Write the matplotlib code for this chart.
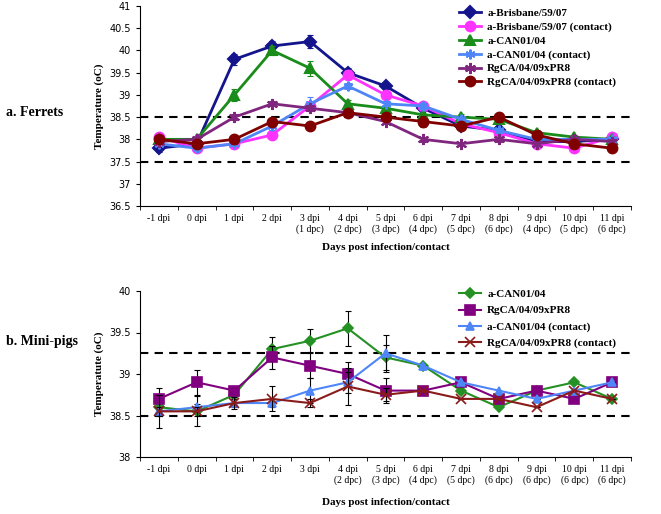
import matplotlib
matplotlib.use("Agg")
import matplotlib.pyplot as plt
import numpy as np

# x categories
days = ["-1 dpi", "0 dpi", "1 dpi", "2 dpi", "3 dpi\n(1 dpc)", "4 dpi\n(2 dpc)", "5 dpi\n(3 dpc)",
        "6 dpi\n(4 dpc)", "7 dpi\n(5 dpc)", "8 dpi\n(6 dpc)", "9 dpi\n(4 dpc)", "10 dpi\n(5 dpc)",
        "11 dpi\n(6 dpc)"]
days_pig = ["-1 dpi", "0 dpi", "1 dpi", "2 dpi", "3 dpi", "4 dpi\n(2 dpc)", "5 dpi\n(3 dpc)",
            "6 dpi\n(4 dpc)", "7 dpi\n(5 dpc)", "8 dpi\n(6 dpc)", "9 dpi\n(6 dpc)", "10 dpi\n(6 dpc)",
            "11 dpi\n(6 dpc)"]

# ferrets
brisbane = [37.8, 37.9, 39.8, 40.1, 40.2, 39.5, 39.2, 38.7, 38.3, 38.2, 37.95, 37.95, 38.0]
brisbane_err = [0.08, 0.05, 0.12, 0.12, 0.15, 0.1, 0.04, 0.12, 0.08, 0.06, 0.05, 0.05, 0.04]
brisbane_c = [38.05, 37.8, 37.9, 38.1, 38.75, 39.45, 39.0, 38.75, 38.35, 38.15, 37.9, 37.8, 38.05]
brisbane_c_err = [0.04, 0.04, 0.04, 0.04, 0.1, 0.1, 0.05, 0.05, 0.05, 0.05, 0.05, 0.04, 0.04]
can = [38.0, 38.0, 39.0, 40.0, 39.6, 38.8, 38.7, 38.55, 38.5, 38.45, 38.15, 38.05, 38.0]
can_err = [0.05, 0.04, 0.13, 0.1, 0.17, 0.08, 0.05, 0.05, 0.08, 0.08, 0.05, 0.05, 0.05]
can_c = [37.9, 37.8, 37.9, 38.3, 38.8, 39.2, 38.8, 38.75, 38.45, 38.2, 38.0, 38.0, 38.0]
can_c_err = [0.04, 0.04, 0.04, 0.08, 0.15, 0.06, 0.06, 0.06, 0.05, 0.05, 0.05, 0.05, 0.05]
rgca = [37.95, 38.0, 38.5, 38.8, 38.7, 38.6, 38.4, 38.0, 37.9, 38.0, 37.9, 38.0, 37.95]
rgca_err = [0.04, 0.04, 0.07, 0.06, 0.07, 0.05, 0.06, 0.05, 0.05, 0.05, 0.06, 0.1, 0.05]
rgca_c = [38.0, 37.9, 38.0, 38.4, 38.3, 38.6, 38.5, 38.4, 38.3, 38.5, 38.1, 37.9, 37.8]
rgca_c_err = [0.04, 0.04, 0.1, 0.07, 0.05, 0.05, 0.05, 0.12, 0.06, 0.1, 0.05, 0.05, 0.07]

# mini-pigs
pig_can = [38.6, 38.55, 38.75, 39.3, 39.4, 39.55, 39.2, 39.1, 38.8, 38.6, 38.8, 38.9, 38.7]
pig_can_err = [0.05, 0.18, 0.05, 0.14, 0.14, 0.21, 0.15, 0, 0, 0, 0, 0, 0]
pig_rgca = [38.7, 38.9, 38.8, 39.2, 39.1, 39.0, 38.8, 38.8, 38.9, 38.7, 38.8, 38.7, 38.9]
pig_rgca_err = [0.13, 0.15, 0.03, 0.14, 0.15, 0.15, 0.15, 0, 0, 0, 0, 0, 0]
pig_can_c = [38.55, 38.6, 38.65, 38.65, 38.8, 38.9, 39.25, 39.1, 38.9, 38.8, 38.7, 38.8, 38.9]
pig_can_c_err = [0.2, 0.04, 0.05, 0.05, 0.15, 0.13, 0.22, 0, 0, 0, 0, 0, 0]
pig_rgca_c = [38.55, 38.55, 38.65, 38.7, 38.65, 38.85, 38.75, 38.8, 38.7, 38.7, 38.6, 38.8, 38.7]
pig_rgca_c_err = [0.05, 0.05, 0.07, 0.15, 0.05, 0.22, 0.08, 0, 0, 0, 0, 0, 0]

serif = "Liberation Serif"
sans = "DejaVu Sans"

fig = plt.figure(figsize=(6.61, 5.14), dpi=100)
ax1 = fig.add_axes([140 / 661, 1 - 206 / 514, 491 / 661, 200 / 514])
ax2 = fig.add_axes([140 / 661, 1 - 457 / 514, 491 / 661, 166 / 514])

x = np.arange(13)

ferret_series = [
    (brisbane, brisbane_err, "#14148C", "D", 6, "a-Brisbane/59/07"),
    (brisbane_c, brisbane_c_err, "#FF33FF", "o", 7, "a-Brisbane/59/07 (contact)"),
    (can, can_err, "#1A8C1A", "^", 7, "a-CAN01/04"),
    (can_c, can_c_err, "#4F86F7", (6, 2, 0), 7, "a-CAN01/04 (contact)"),
    (rgca, rgca_err, "#80267F", (6, 2, 0), 8, "RgCA/04/09xPR8"),
    (rgca_c, rgca_c_err, "#800000", "o", 7, "RgCA/04/09xPR8 (contact)"),
]
for y, e, c, m, ms, lab in ferret_series:
    ax1.errorbar(x, y, yerr=e, fmt="none", ecolor=c, elinewidth=0.8, capsize=2.5, capthick=0.8)
    ax1.plot(x, y, color=c, lw=2, marker=m, ms=ms, mec=c, mew=1.5, label=lab)

pig_series = [
    (pig_can, pig_can_err, "#259125", "D", 5, "a-CAN01/04"),
    (pig_rgca, pig_rgca_err, "#800080", "s", 7, "RgCA/04/09xPR8"),
    (pig_can_c, pig_can_c_err, "#4F86F7", "^", 6, "a-CAN01/04 (contact)"),
    (pig_rgca_c, pig_rgca_c_err, "#8B1A1A", "x", 7, "RgCA/04/09xPR8 (contact)"),
]
for y, e, c, m, ms, lab in pig_series:
    ax2.errorbar(x, y, yerr=e, fmt="none", ecolor="black", elinewidth=0.8, capsize=2.5, capthick=0.8)
    ax2.plot(x, y, color=c, lw=1.5, marker=m, ms=ms, mec=c, mew=1.2, label=lab)

ax1.axhline(38.5, color="black", ls=(0, (4, 3)), lw=1.5, zorder=0)
ax1.axhline(37.5, color="black", ls=(0, (4, 3)), lw=1.5, zorder=0)
ax2.axhline(39.25, color="black", ls=(0, (4, 3)), lw=1.5, zorder=0)
ax2.axhline(38.5, color="black", ls=(0, (4, 3)), lw=1.5, zorder=0)

for ax, labels, lo, hi, ylab, xpad in [(ax1, days, 36.5, 41, "Temperature (oC)", 6),
                                       (ax2, days_pig, 38, 40, "Temperatute (oC)", 9)]:
    ax.set_xlim(-0.5, 12.5)
    ax.set_ylim(lo, hi)
    ax.set_xticks(x)
    ax.set_xticklabels(labels, fontsize=7, family=serif, va="top")
    ax.set_xticks(np.arange(-0.5, 13, 1), minor=True)
    ax.tick_params(axis="x", which="major", length=0, pad=6)
    ax.tick_params(axis="x", which="minor", length=3, direction="out")
    ax.set_yticks(np.arange(lo, hi + 0.01, 0.5))
    ax.set_yticklabels([f"{v:g}" for v in np.arange(lo, hi + 0.01, 0.5)], fontsize=7, family=sans)
    ax.tick_params(axis="y", length=3, direction="out")
    ax.spines["top"].set_visible(False)
    ax.spines["right"].set_visible(False)
    ax.set_ylabel(ylab, fontsize=8, family=serif, fontweight="bold", labelpad=4)
    ax.set_xlabel("Days post infection/contact", fontsize=8, family=serif, fontweight="bold", labelpad=xpad)

ax1.legend(loc="upper left", bbox_to_anchor=(455 / 661, 1 - 4 / 514), bbox_transform=fig.transFigure,
           frameon=False, prop={"family": serif, "weight": "bold", "size": 8},
           handlelength=1.9, handletextpad=0.6, labelspacing=0.35, borderaxespad=0)
ax2.legend(loc="upper left", bbox_to_anchor=(455 / 661, 1 - 285 / 514), bbox_transform=fig.transFigure,
           frameon=False, prop={"family": serif, "weight": "bold", "size": 8},
           handlelength=1.9, handletextpad=0.6, labelspacing=0.58, borderaxespad=0)

fig.text(6 / 661, 1 - 112 / 514, "a. Ferrets", fontsize=10, family=serif, fontweight="bold", va="center")
fig.text(6 / 661, 1 - 342 / 514, "b. Mini-pigs", fontsize=10, family=serif, fontweight="bold", va="center")

fig.savefig("out.png", dpi=100)
